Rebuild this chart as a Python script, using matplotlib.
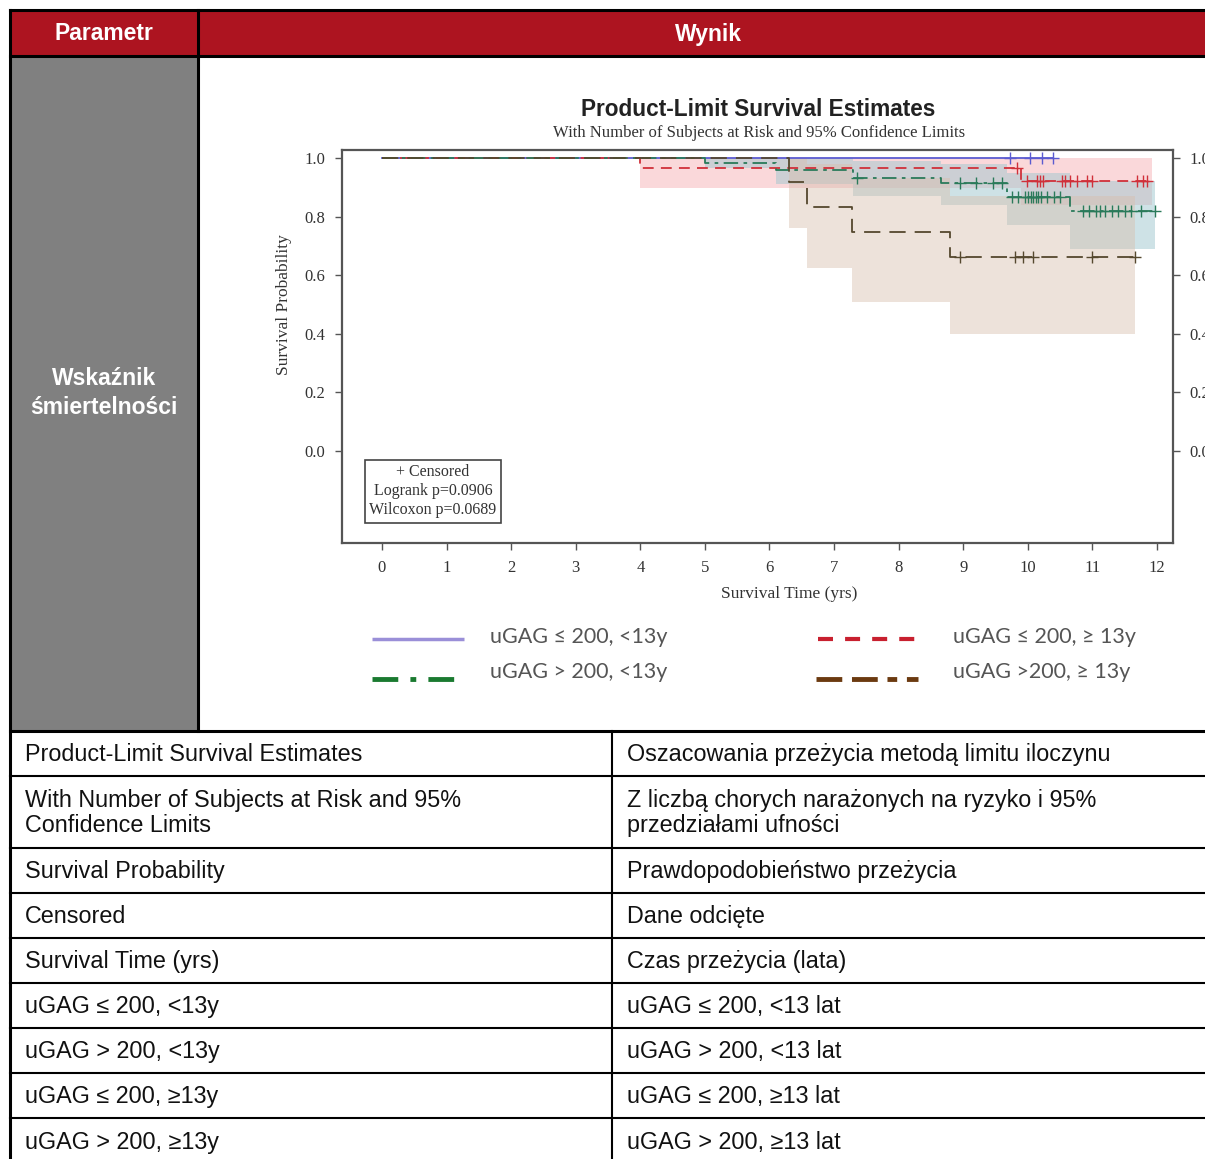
import numpy as np
import matplotlib
matplotlib.use("Agg")
import matplotlib.pyplot as plt
from matplotlib.patches import Rectangle

# ---- data ----
# step curves: jump times and survival after each jump, last time = end of follow-up
blue_t = [0.0, 10.39]
blue_s = [1.0, 1.0]
blue_cens = [9.72, 10.03, 10.22, 10.39]

red_t = [0.0, 4.0, 9.9, 11.84]
red_s = [1.0, 0.966, 0.922, 0.922]
red_cens = [9.84, 9.98, 10.14, 10.19, 10.23, 10.53, 10.57, 10.65, 10.76,
            10.91, 11.0, 11.69, 11.78, 11.84]

green_t = [0.0, 5.0, 6.1, 7.3, 8.65, 9.68, 10.65, 11.97]
green_s = [1.0, 0.983, 0.96, 0.93, 0.915, 0.865, 0.82, 0.82]
green_cens = [7.35, 8.95, 9.2, 9.46, 9.6, 9.75, 9.85, 9.95, 10.0, 10.05, 10.08,
              10.12, 10.15, 10.2, 10.3, 10.4, 10.5, 10.85, 10.95, 11.05,
              11.12, 11.2, 11.3, 11.4, 11.5, 11.6, 11.75, 11.97]

brown_t = [0.0, 6.3, 6.58, 7.28, 8.79, 11.66]
brown_s = [1.0, 0.918, 0.833, 0.747, 0.662, 0.662]
brown_cens = [8.95, 9.8, 9.92, 10.08, 10.99, 11.66]

# 95% confidence bands
red_ci_t = [4.0, 9.9, 11.92]
red_ci_lo = [0.898, 0.84, 0.84]
red_ci_hi = [1.0, 1.0, 1.0]

green_ci_t = [5.0, 6.1, 7.3, 8.65, 9.68, 10.65, 11.97]
green_ci_lo = [0.965, 0.91, 0.87, 0.84, 0.77, 0.69, 0.69]
green_ci_hi = [1.0, 1.0, 0.99, 0.98, 0.95, 0.92, 0.92]

brown_ci_t = [6.3, 6.58, 7.28, 8.79, 11.66]
brown_ci_lo = [0.76, 0.625, 0.51, 0.40, 0.40]
brown_ci_hi = [1.0, 0.98, 0.93, 0.87, 0.87]

x_ticks = list(range(0, 13))
y_ticks = [0.0, 0.2, 0.4, 0.6, 0.8, 1.0]

legend_labels = ["uGAG ≤ 200, <13y", "uGAG > 200, <13y",
                 "uGAG ≤ 200, ≥ 13y", "uGAG >200, ≥ 13y"]

left_col = ["Product-Limit Survival Estimates",
            "With Number of Subjects at Risk and 95%\nConfidence Limits",
            "Survival Probability", "Censored", "Survival Time (yrs)",
            "uGAG ≤ 200, <13y", "uGAG > 200, <13y",
            "uGAG ≤ 200, ≥13y", "uGAG > 200, ≥13y"]
right_col = ["Oszacowania przeżycia metodą limitu iloczynu",
             "Z liczbą chorych narażonych na ryzyko i 95%\nprzedziałami ufności",
             "Prawdopodobieństwo przeżycia", "Dane odcięte",
             "Czas przeżycia (lata)",
             "uGAG ≤ 200, <13 lat", "uGAG > 200, <13 lat",
             "uGAG ≤ 200, ≥13 lat", "uGAG > 200, ≥13 lat"]
row_lines = [731, 776, 848, 893, 938, 983, 1028, 1073, 1118]

W, H = 1205, 1159
SANS = "Liberation Sans"
SERIF = "Liberation Serif"
RED_HDR = "#ad1420"

fig = plt.figure(figsize=(W / 100, H / 100), dpi=100)
bg = fig.add_axes([0, 0, 1, 1])
bg.set_xlim(0, W)
bg.set_ylim(H, 0)
bg.axis("off")

# header row
bg.add_patch(Rectangle((10, 10), W, 46, fc=RED_HDR, ec="none"))
bg.text(104, 34, "Parametr", color="white", fontsize=16.5, fontweight="bold",
        family=SANS, ha="center", va="center")
bg.text(708, 34, "Wynik", color="white", fontsize=16.5, fontweight="bold",
        family=SANS, ha="center", va="center")
# grey parameter cell
bg.add_patch(Rectangle((10, 56), 188, 675, fc="#808080", ec="none"))
bg.text(104, 393, "Wskaźnik\nśmiertelności", color="white", fontsize=16.5,
        fontweight="bold", family=SANS, ha="center", va="center",
        linespacing=1.3)

lw = 2.2
bg.plot([10, W], [10, 10], color="black", lw=lw)
bg.plot([10, W], [56, 56], color="black", lw=lw)
bg.plot([10, 10], [10, H], color="black", lw=lw)
bg.plot([198, 198], [10, 731], color="black", lw=lw)
bg.plot([612, 612], [731, H], color="black", lw=1.5)
for y in row_lines:
    bg.plot([10, W], [y, y], color="black", lw=lw if y == 731 else 1.5)

# translation table
bounds = row_lines + [H + 5]
for i in range(len(left_col)):
    yc = (bounds[i] + bounds[i + 1]) / 2 + 1
    bg.text(25, yc, left_col[i], fontsize=16.8, family=SANS, va="center",
            ha="left", color="#111", linespacing=1.12)
    bg.text(627, yc, right_col[i], fontsize=16.8, family=SANS, va="center",
            ha="left", color="#111", linespacing=1.12)

# KM plot titles
bg.text(758, 109, "Product-Limit Survival Estimates", fontsize=16.3,
        fontweight="bold", family=SANS, ha="center", va="center", color="#222")
bg.text(759, 133, "With Number of Subjects at Risk and 95% Confidence Limits",
        fontsize=12, family=SERIF, ha="center", va="center", color="#333")

# custom legend under the plot
leg_style = [("#9a8fd8", "-", 2.5, 372, 464, 639),
             ("#1a7a30", (0, (5.3, 2.5, 1.2, 2.5)), 3.5, 372, 464, 679),
             ("#c8202f", (0, (3.6, 2.9)), 3.0, 818, 918, 639),
             ("#6b3a10", (0, (5.3, 2, 5.3, 2, 2, 2)), 3.5, 816, 918, 679)]
leg_text_pos = [(490, 637), (490, 672), (953, 637), (953, 672)]
for (c, ls, w, x0, x1, y), lab, (tx, ty) in zip(leg_style, legend_labels, leg_text_pos):
    bg.plot([x0, x1], [y, y], color=c, ls=ls, lw=w, solid_capstyle="butt",
            dash_capstyle="butt")
    bg.text(tx, ty, lab, fontsize=15.5, family="Lato", color="#555",
            ha="left", va="center")

# ---- Kaplan-Meier axes ----
ax = fig.add_axes([342 / W, 1 - 543 / H, (1173 - 342) / W, (543 - 150) / H])
ax.set_xlim(-0.619, 12.248)
ax.set_ylim(-0.314, 1.027)


def band(t, lo, hi, color, alpha):
    ax.fill_between(t, lo, hi, step="post", color=color, alpha=alpha, lw=0)


band(red_ci_t, red_ci_lo, red_ci_hi, "#f4a9ae", 0.45)
band(green_ci_t, green_ci_lo, green_ci_hi, "#9fc7cf", 0.5)
band(brown_ci_t, brown_ci_lo, brown_ci_hi, "#d8bfae", 0.45)


def curve(t, s, cens, color, ls, lw=1.3):
    ax.step(t, s, where="post", color=color, ls=ls, lw=lw)
    idx = np.searchsorted(t, cens, side="right") - 1
    ax.plot(cens, np.array(s)[idx], ls="none", marker="+", ms=8,
            mew=1.0, color=color)


curve(blue_t, blue_s, blue_cens, "#5b5bd0", "-")
curve(red_t, red_s, red_cens, "#d0303a", (0, (6, 4)))
curve(green_t, green_s, green_cens, "#2a7a5a", (0, (8, 3, 2, 3)))
curve(brown_t, brown_s, brown_cens, "#55482e", (0, (9, 5)))

ax.set_xticks(x_ticks)
ax.set_yticks(y_ticks)
ax.set_xticklabels([str(v) for v in x_ticks])
ax.set_yticklabels([f"{v:.1f}" for v in y_ticks])
ax.tick_params(axis="both", direction="out", length=5, width=1,
               color="#555", labelcolor="#333", labelsize=12, pad=7)
ax.tick_params(axis="y", right=True, labelright=True)
for lab in ax.get_xticklabels() + ax.get_yticklabels():
    lab.set_family(SERIF)
for sp in ax.spines.values():
    sp.set_color("#555")
    sp.set_linewidth(1.6)
ax.set_xlabel("Survival Time (yrs)", family=SERIF, fontsize=12.5, color="#333")
ax.set_ylabel("Survival Probability", family=SERIF, fontsize=12.5, color="#333")
ax.xaxis.set_label_coords(0.538, -0.11)
ax.yaxis.set_label_coords(-0.06, 0.606)

ax.text(0.79, -0.137, "+ Censored\nLogrank p=0.0906\nWilcoxon p=0.0689",
        family=SERIF, fontsize=11.5, color="#333", ha="center", va="center",
        linespacing=1.22,
        bbox=dict(boxstyle="square,pad=0.3", fc="white", ec="#444", lw=1.2))

fig.savefig("out.png", dpi=100)
